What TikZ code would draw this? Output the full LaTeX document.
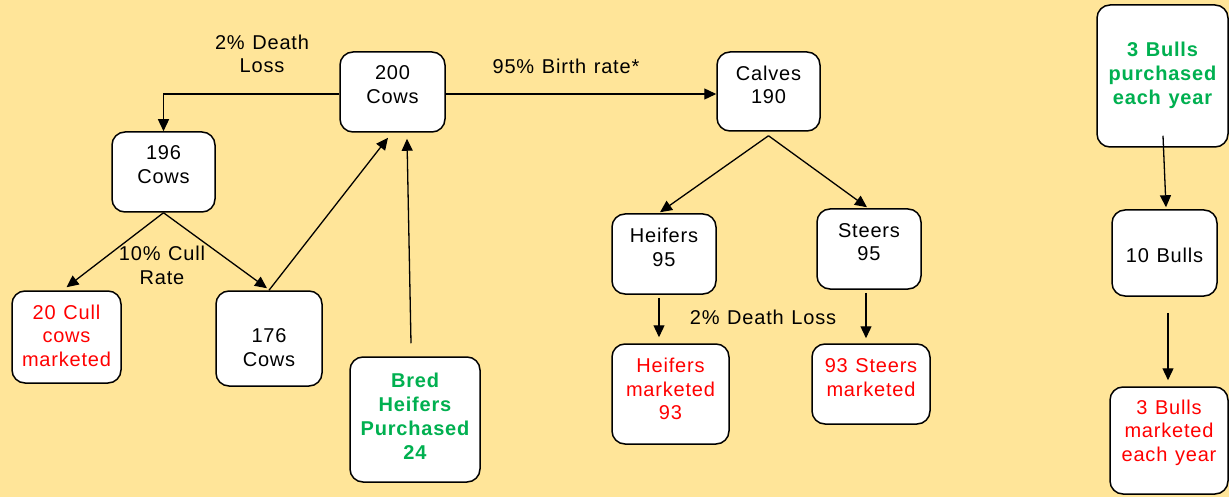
\documentclass[tikz,border=0pt]{standalone}
\usepackage{fontspec}
\setmainfont{Liberation Sans}[LetterSpace=4,WordSpace=1.2]
\usetikzlibrary{arrows.meta}
\definecolor{bg}{HTML}{FFE599}
\definecolor{redtxt}{HTML}{FF0000}
\definecolor{greentxt}{HTML}{00B050}
\tikzset{
  box/.style={draw=black, line width=1.5pt, fill=white, rounded corners=13pt, inner sep=0pt},
  txt/.style={align=center, inner sep=0pt, font=\fontsize{20}{23.5}\selectfont},
  redt/.style={txt, text=redtxt},
  greent/.style={txt, text=greentxt, font=\fontsize{20}{24}\selectfont\bfseries},
  conn/.style={line width=1.3pt, -{Triangle[length=12pt,width=11pt]}}
}
\begin{document}
\begin{tikzpicture}[x=1pt,y=-1pt]
\fill[bg] (0,0) rectangle (1229,497);
\useasboundingbox (0,0) rectangle (1229,497);

% boxes
\node[box, minimum width=105pt, minimum height=80pt] (cows200) at (392.5,92) {};
\node[box, minimum width=103pt, minimum height=80pt] (cows196) at (163.5,172) {};
\node[box, minimum width=109pt, minimum height=92pt] (cull) at (66.5,337) {};
\node[box, minimum width=106pt, minimum height=95pt] (cows176) at (269,338.5) {};
\node[box, minimum width=130pt, minimum height=125pt] (bred) at (415,419.5) {};
\node[box, minimum width=103pt, minimum height=79pt] (calves) at (768.5,91.5) {};
\node[box, minimum width=104pt, minimum height=80pt] (heifers) at (664,254) {};
\node[box, minimum width=104pt, minimum height=80pt] (steers) at (869,249) {};
\node[box, minimum width=117pt, minimum height=100pt] (hmkt) at (670.5,394) {};
\node[box, minimum width=118pt, minimum height=80pt] (smkt) at (871,384) {};
\node[box, minimum width=131pt, minimum height=142pt] (bullsP) at (1162.5,76) {};
\node[box, minimum width=105pt, minimum height=86pt] (bulls10) at (1164.5,253) {};
\node[box, minimum width=118pt, minimum height=107pt] (bullsM) at (1169,440.5) {};

% box texts
\node[txt] (t200) at (392.5,84.5) {200\\Cows};
\node[txt] (t196) at (163.5,164.5) {196\\Cows};
\node[redt] (tcull) at (66.5,335.5) {20 Cull\\cows\\marketed};
\node[txt] (t176) at (269,347.5) {176\\Cows};
\node[greent] (tbred) at (415,416) {Bred\\Heifers\\Purchased\\24};
\node[txt] (tcalves) at (768.5,85) {Calves\\190};
\node[txt] (theifers) at (664,247.5) {Heifers\\95};
\node[txt] (tsteers) at (869,242) {Steers\\95};
\node[redt] (thmkt) at (670.5,389) {Heifers\\marketed\\93};
\node[redt] (tsmkt) at (871,377.5) {93 Steers\\marketed};
\node[greent] (tbullsP) at (1162.5,75.5) {3 Bulls\\purchased\\each year};
\node[txt] (tbulls10) at (1164.5,255) {10 Bulls};
\node[redt] (tbullsM) at (1169,432.5) {3 Bulls\\marketed\\each year};

% labels
\node[txt] (ldeath) at (262,54) {2\% Death\\Loss};
\node[txt] (lbirth) at (566,66) {95\% Birth rate*};
\node[txt] (lcull) at (162,265.5) {10\% Cull\\Rate};
\node[txt] (ldeath2) at (763,317) {2\% Death Loss};

% connectors
\draw[conn] ([yshift=-2pt]cows200.west) -| (cows196.north);
\draw[conn] ([yshift=-2pt]cows200.east) -- ([yshift=-2.5pt]calves.west);
\draw[conn] (cows196.south) -- ([yshift=3pt]cull.north);
\draw[conn] (cows196.south) -- ([xshift=-2pt,yshift=2pt]cows176.north);
\draw[conn] (cows176.north) -- ([xshift=-4.5pt,yshift=-5pt]cows200.south);
\draw[conn] ([xshift=-4pt,yshift=13pt]bred.north) -- ([xshift=14.5pt,yshift=-6pt]cows200.south);
\draw[conn] ([yshift=-4pt]calves.south) -- ([xshift=-4pt,yshift=1pt]heifers.north);
\draw[conn] ([yshift=-4pt]calves.south) -- ([xshift=-2pt,yshift=1pt]steers.north);
\draw[conn] ([xshift=-5pt,yshift=-3pt]heifers.south) -- ([xshift=-11.5pt,yshift=6pt]hmkt.north);
\draw[conn] ([xshift=-3pt,yshift=-3pt]steers.south) -- ([xshift=-5pt,yshift=5pt]smkt.north);
\draw[conn] ([xshift=0.5pt,yshift=12pt]bullsP.south) -- ([xshift=1.5pt,yshift=2pt]bulls10.north);
\draw[conn] ([xshift=3.5pt,yshift=-16pt]bulls10.south) -- ([xshift=-1pt,yshift=6pt]bullsM.north);
\end{tikzpicture}
\end{document}
